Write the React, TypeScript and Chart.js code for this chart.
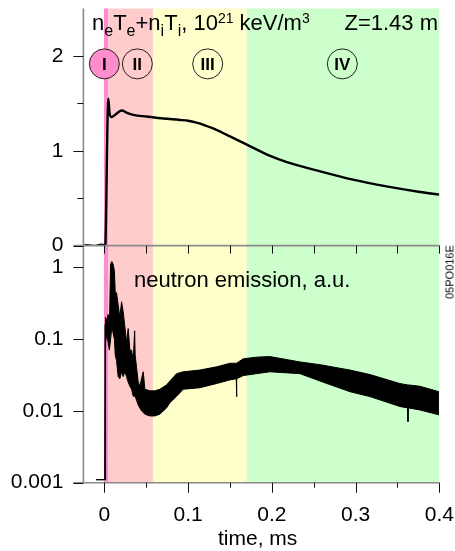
import React, { useEffect, useRef } from "react";
import { Chart, registerables } from "chart.js";

Chart.register(...registerables);

// ---- data ----
// Top panel: n_e T_e + n_i T_i (10^21 keV/m^3) vs time (ms)
const pTime = [-0.025, -0.02, -0.012, -0.004, 0.0, 0.0008, 0.0048, 0.0062, 0.0087, 0.013, 0.0206, 0.027, 0.0345, 0.0505, 0.0704, 0.0903, 0.1, 0.11, 0.12, 0.13, 0.14, 0.15, 0.169, 0.198, 0.218, 0.258, 0.297, 0.337, 0.377, 0.4];
const pValue = [0.0, 0.005, -0.005, 0.01, 0.0, -0.06, 1.55, 1.4, 1.355, 1.38, 1.424, 1.4, 1.379, 1.361, 1.34, 1.325, 1.316, 1.296, 1.268, 1.235, 1.195, 1.152, 1.07, 0.945, 0.88, 0.782, 0.695, 0.624, 0.565, 0.537];

// Bottom panel: neutron emission (a.u.), noisy band given by its upper and lower envelope
const nTime = [-0.01, 0.0004, 0.0008, 0.0015, 0.003, 0.0045, 0.006, 0.0075, 0.009, 0.0105, 0.012, 0.013, 0.0146, 0.0165, 0.0185, 0.0206, 0.0225, 0.0245, 0.0265, 0.0285, 0.0305, 0.0325, 0.0345, 0.0362, 0.0368, 0.0385, 0.0405, 0.0424, 0.0444, 0.0465, 0.0484, 0.0544, 0.0603, 0.0663, 0.0743, 0.0783, 0.0863, 0.0942, 0.1141, 0.134, 0.1499, 0.1575, 0.1578, 0.1583, 0.1658, 0.1818, 0.1977, 0.2336, 0.2575, 0.2933, 0.3172, 0.353, 0.3622, 0.3626, 0.363, 0.3769, 0.3996];
const nUpper = [0.0011, 0.0011, 0.16, 0.2, 0.18, 0.22, 0.15, 1.1, 1.2, 1.1, 0.9, 0.45, 0.44, 0.3, 0.2, 0.33, 0.24, 0.15, 0.09, 0.14, 0.07, 0.07, 0.05, 0.13, 0.06, 0.04, 0.025, 0.022, 0.028, 0.035, 0.02, 0.019, 0.019, 0.02, 0.023, 0.026, 0.033, 0.035, 0.037, 0.041, 0.046, 0.046, 0.046, 0.046, 0.053, 0.056, 0.057, 0.048, 0.044, 0.037, 0.032, 0.024, 0.023, 0.023, 0.023, 0.022, 0.0185];
const nLower = [0.0011, 0.0011, 0.0011, 0.09, 0.12, 0.09, 0.07, 0.1, 0.15, 0.12, 0.1, 0.06, 0.05, 0.03, 0.028, 0.035, 0.03, 0.035, 0.03, 0.025, 0.022, 0.02, 0.016, 0.016, 0.016, 0.014, 0.012, 0.011, 0.01, 0.0095, 0.009, 0.0085, 0.0085, 0.009, 0.011, 0.013, 0.016, 0.02, 0.021, 0.024, 0.027, 0.028, 0.0158, 0.028, 0.031, 0.033, 0.035, 0.033, 0.026, 0.0185, 0.0158, 0.0115, 0.011, 0.0071, 0.011, 0.0103, 0.0088];

// Axes / ticks
const xMajorTicks = [0, 0.1, 0.2, 0.3, 0.4];
const xMinorTicks = [0.05, 0.15, 0.25, 0.35];
const xMidTicks = [0, 0.05, 0.1, 0.15, 0.2, 0.25, 0.3, 0.35, 0.4];
const xTickLabels = ["0", "0.1", "0.2", "0.3", "0.4"];
const pMajorTicks = [0, 1, 2];
const pMinorTicks = [0.5, 1.5];
const nTicks = [0.001, 0.01, 0.1, 1];
const nTickLabels = ["0.001", "0.01", "0.1", "1"];

// Phase regions
const regionEdges = [-0.0005, 0.0049, 0.058, 0.17, 0.4];
const regionColors = ["#FF8CCB", "#FFCCCC", "#FFFFCC", "#CCFFCC"];
const phaseLabels = ["I", "II", "III", "IV"];
const phaseX = [0, 0.0394, 0.1234, 0.2842];
const phaseY = 1.916;

const FONT = "'Liberation Sans', Arial, Helvetica, sans-serif";

const bgPlugin = {
  id: "phaseBg",
  beforeDatasetsDraw(chart: any) {
    const { ctx, chartArea, scales } = chart;
    const x = scales.x;
    ctx.save();
    for (let i = 0; i < regionColors.length; i++) {
      const a = x.getPixelForValue(regionEdges[i]);
      const b = x.getPixelForValue(regionEdges[i + 1]);
      ctx.fillStyle = regionColors[i];
      ctx.fillRect(a, chartArea.top, b - a, chartArea.bottom - chartArea.top);
    }
    ctx.restore();
  },
};

const axesPlugin = {
  id: "axesDraw",
  afterDatasetsDraw(chart: any) {
    const { ctx, chartArea, scales } = chart;
    const { left, right, top, bottom } = chartArea;
    const x = scales.x;
    const yP = scales.yP;
    const yN = scales.yN;
    const mid = yP.getPixelForValue(0);
    const seg = (x1: number, y1: number, x2: number, y2: number) => {
      ctx.beginPath();
      ctx.moveTo(x1, y1);
      ctx.lineTo(x2, y2);
      ctx.stroke();
    };
    ctx.save();
    // axis lines
    ctx.strokeStyle = "#8a8a8a";
    ctx.lineWidth = 1.6;
    seg(left, top, left, bottom);
    seg(left - 10, mid, right, mid);
    seg(left - 10, bottom, right, bottom);
    // tick marks
    ctx.strokeStyle = "#111";
    ctx.lineWidth = 1;
    for (const v of pMajorTicks) {
      const py = Math.round(yP.getPixelForValue(v)) + 0.5;
      seg(left - 10, py, left, py);
    }
    for (const v of pMinorTicks) {
      const py = Math.round(yP.getPixelForValue(v)) + 0.5;
      seg(left - 6, py, left, py);
    }
    for (const v of nTicks) {
      const py = Math.round(yN.getPixelForValue(v)) + 0.5;
      seg(left - 10, py, left, py);
    }
    for (const v of xMidTicks) {
      const px = Math.round(x.getPixelForValue(v)) + 0.5;
      seg(px, mid, px, mid + 8);
    }
    for (const v of xMajorTicks) {
      const px = Math.round(x.getPixelForValue(v)) + 0.5;
      seg(px, bottom, px, bottom + 10);
    }
    for (const v of xMinorTicks) {
      const px = Math.round(x.getPixelForValue(v)) + 0.5;
      seg(px, bottom, px, bottom + 5);
    }
    ctx.restore();
  },
  afterDraw(chart: any) {
    const { ctx, scales } = chart;
    const x = scales.x;
    const yP = scales.yP;
    ctx.save();
    for (let i = 0; i < phaseLabels.length; i++) {
      const cx = x.getPixelForValue(phaseX[i]);
      const cy = yP.getPixelForValue(phaseY);
      ctx.beginPath();
      ctx.arc(cx, cy, 15, 0, Math.PI * 2);
      if (i === 0) {
        ctx.fillStyle = regionColors[0];
        ctx.fill();
      }
      ctx.strokeStyle = "#222";
      ctx.lineWidth = 1;
      ctx.stroke();
      ctx.fillStyle = "#000";
      ctx.font = `bold 17px ${FONT}`;
      ctx.textAlign = "center";
      ctx.textBaseline = "middle";
      ctx.fillText(phaseLabels[i], cx, cy + 1);
    }
    ctx.restore();
  },
};

const noPadY = (s: any) => {
  s.width = 83.4;
  s.paddingTop = 0;
  s.paddingBottom = 0;
};

export default function App() {
  const ref = useRef<HTMLCanvasElement | null>(null);

  useEffect(() => {
    if (!ref.current) return;
    const tickFont = { family: FONT, size: 21 };
    const chart = new Chart(ref.current, {
      type: "line",
      data: {
        datasets: [
          {
            label: "pressure",
            data: pTime.map((t, i) => ({ x: t, y: pValue[i] })),
            yAxisID: "yP",
            borderColor: "#000",
            borderWidth: 2.4,
            pointRadius: 0,
            fill: false,
            cubicInterpolationMode: "monotone",
          },
          {
            label: "neutron upper",
            data: nTime.map((t, i) => ({ x: t, y: nUpper[i] })),
            yAxisID: "yN",
            borderColor: "#000",
            borderWidth: 1,
            pointRadius: 0,
            fill: false,
            tension: 0,
          },
          {
            label: "neutron lower",
            data: nTime.map((t, i) => ({ x: t, y: nLower[i] })),
            yAxisID: "yN",
            borderColor: "#000",
            borderWidth: 1,
            pointRadius: 0,
            fill: "-1",
            backgroundColor: "#000",
            tension: 0,
          },
        ],
      },
      options: {
        animation: false,
        responsive: false,
        maintainAspectRatio: false,
        layout: { padding: { top: 8.5, right: 15.7, left: 0, bottom: 0 } },
        plugins: { legend: { display: false }, tooltip: { enabled: false } },
        scales: {
          x: {
            type: "linear",
            min: -0.025,
            max: 0.4,
            grid: { display: false, drawTicks: false },
            border: { display: false },
            ticks: {
              font: tickFont,
              color: "#000",
              padding: 20,
              autoSkip: false,
              maxRotation: 0,
              callback: (v: any) => {
                const i = xMajorTicks.findIndex((t) => Math.abs(t - v) < 1e-9);
                return i >= 0 ? xTickLabels[i] : "";
              },
            },
            afterBuildTicks: (s: any) => {
              s.ticks = xMajorTicks.map((v) => ({ value: v }));
            },
            afterFit: (s: any) => {
              s.height = 68.3;
              s.paddingLeft = 0;
              s.paddingRight = 0;
            },
          },
          yN: {
            type: "logarithmic",
            position: "left",
            stack: "panels",
            stackWeight: 1,
            min: 0.001,
            max: 2,
            grid: { display: false, drawTicks: false },
            border: { display: false },
            ticks: {
              font: tickFont,
              color: "#000",
              padding: 20,
              autoSkip: false,
              callback: (v: any) => {
                const i = nTicks.findIndex((t) => Math.abs(t - v) / t < 1e-6);
                return i >= 0 ? nTickLabels[i] : "";
              },
            },
            afterBuildTicks: (s: any) => {
              s.ticks = nTicks.map((v) => ({ value: v }));
            },
            afterFit: noPadY,
          },
          yP: {
            type: "linear",
            position: "left",
            stack: "panels",
            stackWeight: 1,
            min: 0,
            max: 2.5,
            grid: { display: false, drawTicks: false },
            border: { display: false },
            ticks: {
              font: tickFont,
              color: "#000",
              padding: 20,
              autoSkip: false,
              callback: (v: any) => String(v),
            },
            afterBuildTicks: (s: any) => {
              s.ticks = pMajorTicks.map((v) => ({ value: v }));
            },
            afterFit: noPadY,
          },
        },
      },
      plugins: [bgPlugin, axesPlugin],
    } as any);
    return () => chart.destroy();
  }, []);

  const base: React.CSSProperties = {
    position: "absolute",
    fontFamily: FONT,
    color: "#000",
    whiteSpace: "nowrap",
    lineHeight: "22px",
  };
  const sub: React.CSSProperties = { fontSize: 16, verticalAlign: -6, lineHeight: 0 };
  const sup: React.CSSProperties = { fontSize: 14, verticalAlign: 7, lineHeight: 0 };

  return (
    <div style={{ position: "fixed", left: 0, top: 0, width: 455, height: 551, background: "#fff", overflow: "hidden" }}>
      <canvas ref={ref} width={455} height={551} style={{ position: "absolute", left: 0, top: 0, width: 455, height: 551 }} />
      <div style={{ ...base, left: 92, top: 12, fontSize: 22 }}>
        n<span style={sub}>e</span>T<span style={sub}>e</span>+n<span style={sub}>i</span>T<span style={sub}>i</span>, 10<span style={sup}>21</span> keV/m<span style={sup}>3</span>
      </div>
      <div style={{ ...base, right: 17, top: 12, fontSize: 22 }}>Z=1.43 m</div>
      <div style={{ ...base, left: 134, top: 269, fontSize: 22 }}>neutron emission, a.u.</div>
      <div style={{ ...base, left: 218, top: 527, fontSize: 21 }}>time, ms</div>
      <div
        style={{
          ...base,
          left: 449.7,
          top: 271.7,
          fontSize: 11,
          lineHeight: "11px",
          transform: "translate(-50%, -50%) rotate(-90deg)",
        }}
      >
        05PO016E
      </div>
    </div>
  );
}
